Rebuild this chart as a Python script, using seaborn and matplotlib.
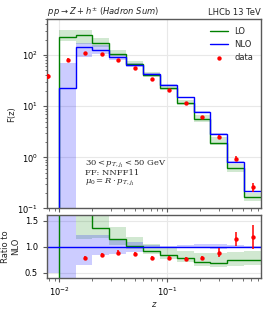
import numpy as np
import matplotlib
matplotlib.use("Agg")
import matplotlib.pyplot as plt
import seaborn as sns

# z bin edges (first bin sits below the visible range)
z_edges = [0.00686, 0.00983, 0.01409, 0.02020, 0.02896, 0.04152, 0.05952,
           0.08531, 0.1223, 0.1753, 0.2513, 0.3602, 0.5164, 0.7404]

# LO prediction + scale band
lo = [0.005, 224, 242, 172, 104, 65.8, 40, 22.3, 11.5, 5.5, 1.94, 0.61, 0.164]
lo_down = [0.003, 185, 165, 147, 94, 62.4, 37.5, 20.4, 10.5, 4.88, 1.74, 0.51, 0.141]
lo_up = [0.008, 303, 313, 214, 126, 77.4, 46, 25.7, 13.5, 6.73, 2.48, 0.74, 0.2]

# NLO prediction + scale band
nlo = [0.03, 23.1, 143, 127, 91.4, 65, 43.4, 26.5, 14.8, 7.74, 2.85, 0.82, 0.22]
nlo_down = [0.015, 0.05, 91.5, 106.7, 79, 58.5, 42.1, 26.0, 14.4, 7.5, 2.74, 0.80, 0.216]
nlo_up = [0.09, 71, 176, 156, 105.5, 70.9, 45.1, 27.0, 15.2, 8.2, 3.02, 0.84, 0.224]

# LHCb data
data_z = [0.00787, 0.01192, 0.01713, 0.02463, 0.03512, 0.05017, 0.0721,
          0.1037, 0.1482, 0.2113, 0.3037, 0.4366, 0.6279]
data = [38.5, 80, 111, 106, 81, 55.8, 34, 20.8, 11.4, 6.02, 2.52, 0.94, 0.26]
data_err = [4, 6, 6, 5, 4, 2.5, 1.5, 0.9, 0.5, 0.3, 0.26, 0.11, 0.05]

sns.set_style("whitegrid", {"axes.edgecolor": ".35", "grid.color": ".91",
                            "xtick.bottom": True, "ytick.left": True})
plt.rcParams["font.family"] = ["DejaVu Sans"]
plt.rcParams["font.size"] = 6
plt.rcParams["axes.linewidth"] = 1.0
plt.rcParams["xtick.major.size"] = 3
plt.rcParams["ytick.major.size"] = 3
plt.rcParams["xtick.minor.size"] = 1.8
plt.rcParams["ytick.minor.size"] = 1.8
plt.rcParams["xtick.major.pad"] = 2.5
plt.rcParams["xtick.color"] = ".35"
plt.rcParams["ytick.color"] = ".35"
plt.rcParams["xtick.labelcolor"] = "black"
plt.rcParams["ytick.labelcolor"] = "black"

edges = np.array(z_edges)
lo, lo_down, lo_up = np.array(lo), np.array(lo_down), np.array(lo_up)
nlo, nlo_down, nlo_up = np.array(nlo), np.array(nlo_down), np.array(nlo_up)
data, data_err = np.array(data), np.array(data_err)

fig = plt.figure(figsize=(2.67, 3.12), dpi=100)
ax = fig.add_axes([0.176, 0.332, 0.8015, 0.606])
rax = fig.add_axes([0.176, 0.108, 0.8015, 0.203], sharex=ax)

# 1. main panel
ax.stairs(lo_up, edges, baseline=lo_down, fill=True, color="green", alpha=0.18, lw=0)
ax.stairs(nlo_up, edges, baseline=nlo_down, fill=True, color="blue", alpha=0.2, lw=0)
ax.stairs(lo, edges, baseline=None, color="green", lw=1, label="LO")
ax.stairs(nlo, edges, baseline=None, color="blue", lw=1, label="NLO")
ax.errorbar(data_z, data, yerr=data_err, fmt="none", ecolor="red", elinewidth=1.1, zorder=4)
sns.scatterplot(x=data_z, y=data, ax=ax, color="red", s=10, linewidth=0, zorder=5, label="data")

ax.set_xscale("log")
ax.set_yscale("log")
ax.set_xlim(0.00766, edges[-1])
ax.set_ylim(0.1, 500)
ax.set_ylabel("F(z)")
ax.yaxis.set_label_coords(-0.145, 0.5)
ax.tick_params(which="both", labelbottom=False)
ax.set_title(r"$p\,p \rightarrow Z + h^{\pm}$ $\mathit{(Hadron\ Sum)}$", loc="left", fontsize=6, pad=3)
ax.set_title("LHCb 13 TeV", loc="right", fontsize=6, pad=3)
ax.legend(loc="upper right", frameon=False, fontsize=6, handlelength=2.2)

txt = dict(transform=ax.transAxes, fontsize=6, family="serif",
           math_fontfamily="dejavuserif", va="center", ha="left")
ax.text(0.179, 0.238, r"$30 < p_{T,j_1} < 50$ GeV", **txt)
ax.text(0.179, 0.189, "FF: NNFF11", **txt)
ax.text(0.179, 0.141, r"$\mu_0 = R \cdot p_{T,j_1}$", **txt)

# 2. ratio panel
rax.stairs(lo_up / nlo, edges, baseline=lo_down / nlo, fill=True, color="green", alpha=0.18, lw=0)
rax.stairs(nlo_up / nlo, edges, baseline=nlo_down / nlo, fill=True, color="blue", alpha=0.2, lw=0)
rax.stairs(lo / nlo, edges, baseline=None, color="green", lw=1)
rax.axhline(1.0, color="blue", lw=1)
rax.errorbar(data_z, data / nlo, yerr=data_err / nlo, fmt="none", ecolor="red", elinewidth=1.1, zorder=4)
sns.scatterplot(x=data_z, y=data / nlo, ax=rax, color="red", s=10, linewidth=0, zorder=5, legend=False)

rax.set_ylim(0.39, 1.61)
rax.set_yticks([0.5, 1.0, 1.5])
rax.set_yticklabels(["0.5", "1.0", "1.5"])
rax.set_ylabel("Ratio to\nNLO")
rax.yaxis.set_label_coords(-0.124, 0.5)
rax.set_xlabel(r"$z$", labelpad=1)

fig.savefig("out.png", dpi=100)
